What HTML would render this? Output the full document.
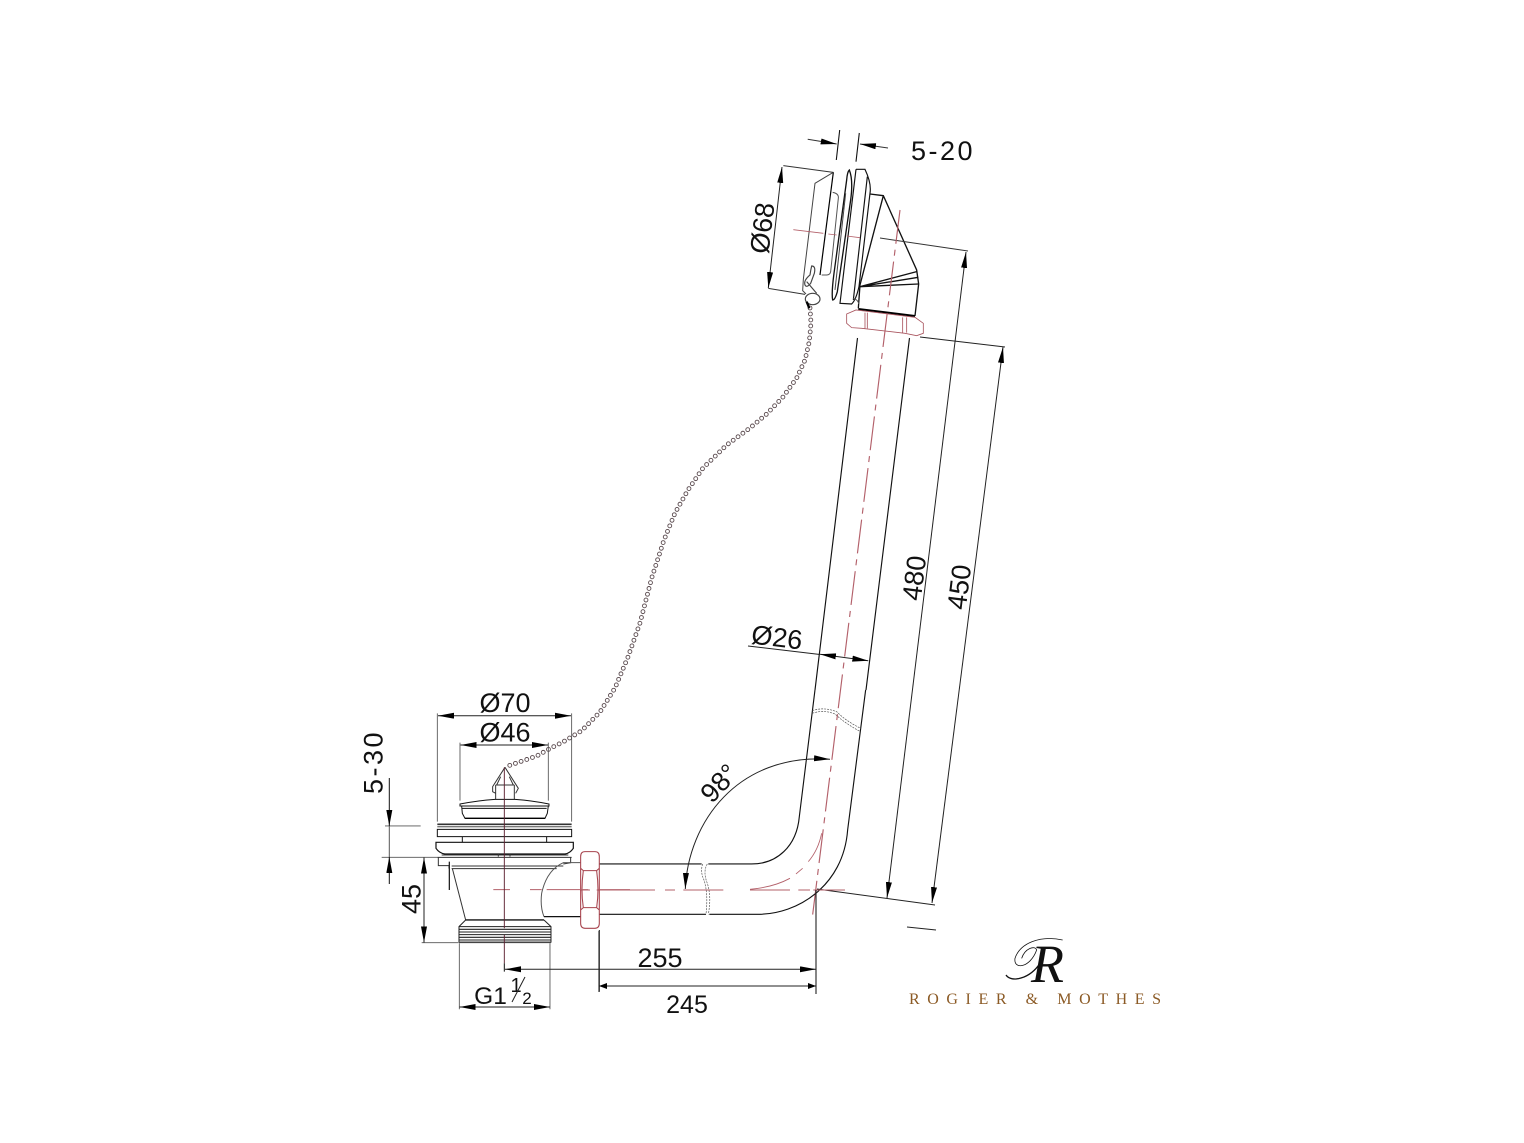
<!DOCTYPE html>
<html><head><meta charset="utf-8"><style>
html,body{margin:0;padding:0;background:#fff}
svg{display:block}
text{font-family:"Liberation Sans",sans-serif;fill:#111}
</style></head><body>
<svg width="1524" height="1143" viewBox="0 0 1524 1143" xmlns="http://www.w3.org/2000/svg">
<defs>
<marker id="a" markerUnits="userSpaceOnUse" markerWidth="18" markerHeight="8" refX="16" refY="3" orient="auto-start-reverse"><path d="M0,0L16,3L0,6Z" fill="#000"/></marker>
<marker id="s" markerUnits="userSpaceOnUse" markerWidth="10" markerHeight="8" refX="8" refY="3" orient="auto-start-reverse"><path d="M0,0L8,3L0,6Z" fill="#000"/></marker>
</defs>
<rect width="1524" height="1143" fill="#fff"/>

<!-- chain -->
<g fill="none" stroke-linecap="round" stroke-linejoin="round" stroke-dasharray="0 6">
<path stroke="#5a4a4e" stroke-width="4.8" d="M810,308L811,323L809.3,341.7L805,360L796.7,378L783,397L766.7,414L750,428L726.7,445L703,468L688,490L675,513L664,540L651.7,578L640,623L628,657L615,688L600,712L581.7,730.7L563,742L550,748.5L536.7,756L505,767"/>
<path stroke="#fff" stroke-width="3" d="M810,308L811,323L809.3,341.7L805,360L796.7,378L783,397L766.7,414L750,428L726.7,445L703,468L688,490L675,513L664,540L651.7,578L640,623L628,657L615,688L600,712L581.7,730.7L563,742L550,748.5L536.7,756L505,767"/>
</g>

<!-- top fitting -->
<g transform="translate(790,160) scale(.3333)" fill="none" stroke="#111" stroke-width="3">
<path stroke="#333" d="M-20,17L130,37M-65,385L45,403"/>
<path stroke="#444" d="M130,37L75,70L40,358L38,392L48,402"/>
<path stroke="#555" d="M128,97Q147,100 145,115L122,335Q120,345 110,345H95"/>
<path stroke="#000" stroke-width="3.6" d="M130,37L90,345"/>
<path stroke-width="4" d="M178,30Q190,60 182,120L142,395Q135,420 128,420Q124,400 132,340L170,60Q172,35 178,30Z"/>
<path d="M167,100L135,390" stroke="#444"/>
<path stroke-width="3.5" d="M198,28H225Q245,70 240,100L207,380Q198,420 185,432L150,430L198,28M190,420L232,50"/>
<path stroke-width="4" d="M240,102L280,107L380,330L386,372L375,468M280,107L210,375L205,445"/>
<path stroke-width="4" d="M210,380L380,335M210,380L385,352M210,380L385,372"/>
<path stroke="#555" d="M190,415Q205,420 206,432"/>
<path stroke="#000" stroke-width="6" d="M205,447L375,468"/>
<path stroke="#a9545e" stroke-width="2.5" d="M170,462L198,450L375,472L400,490L400,520L380,527L345,520L215,505L185,503L170,490ZM225,458V505M232,458V505M338,472V518M350,472V518"/>
<path stroke="#444" stroke-width="3.5" d="M65,318Q78,318 73,340L62,370Q50,385 45,375Q40,362 60,345Q62,330 65,318ZM50,365L80,400"/>
<ellipse cx="68" cy="417" rx="22" ry="17" stroke="#444" stroke-width="3.5"/>
<path stroke="#000" stroke-width="7" d="M50,425L58,445"/>
<path stroke="#b3606a" stroke-width="2.5" d="M10,209L100,220M115,222L140,225M170,228L210,233"/>
</g>
<path fill="none" stroke="#333" stroke-width="1" d="M880,238L968,251"/>
<path fill="none" stroke="#111" stroke-width="1.1" d="M839.7,130L836.3,160M859.3,133L856,161.7"/>
<path fill="none" stroke="#333" stroke-width="1" d="M807.7,139.3L836.7,144" marker-end="url(#a)"/>
<path fill="none" stroke="#333" stroke-width="1" d="M888,148L860,144" marker-end="url(#a)"/>
<path fill="none" stroke="#222" stroke-width="1" d="M782,167L768.3,288" marker-start="url(#a)" marker-end="url(#a)"/>
<path fill="none" stroke="#222" stroke-width="1" d="M966,252L887,898" marker-start="url(#a)" marker-end="url(#a)"/>
<path fill="none" stroke="#222" stroke-width="1" d="M1003,347L932,903" marker-start="url(#a)" marker-end="url(#a)"/>
<path fill="none" stroke="#222" stroke-width="1" d="M920,337L1005,347M817,889L935,905M907,927L936,930"/>

<!-- pipe -->
<g fill="none" stroke="#111" stroke-width="1.15">
<path d="M815,690L857.5,338M866,690L909.5,338"/>
</g>
<path fill="none" stroke="#b3606a" stroke-width="1.15" stroke-dasharray="34 6 6 6" d="M900,210L812,920"/>
<g transform="translate(580,690) scale(.3333)" fill="none" stroke="#111" stroke-width="3.4">
<path d="M57,522H365M385,522H515C590,522 650,470 658,380L705,0"/>
<path d="M57,673H378M388,673H535C650,673 790,590 803,420L857,0"/>
<path stroke="#555" stroke-width="2" stroke-dasharray="6 3" d="M368,522Q360,545 372,570Q385,610 378,673M382,522Q368,545 382,580Q395,620 385,673M697,62Q730,50 770,65Q800,95 843,115M697,70Q730,58 765,72Q795,100 840,124"/>
<path stroke="#b3606a" stroke-width="3" d="M0,600H30M50,600H225M255,600H285M310,600H430M510,600H630M655,600H690M700,600H795"/>
<path stroke="#b3606a" stroke-width="2.6" d="M510,598Q580,592 630,565M648,552L668,535M685,515Q715,480 725,430"/>
</g>
<path fill="none" stroke="#222" stroke-width="1" d="M748,646L820,654.5"/>
<path fill="none" stroke="#222" stroke-width="1" d="M820,654.3L868.3,660.7" marker-start="url(#a)" marker-end="url(#a)"/>
<path fill="none" stroke="#222" stroke-width="1" d="M685.3,889C688,823 737,753 830,759.3" marker-start="url(#a)" marker-end="url(#a)"/>

<!-- drain -->
<g transform="translate(350,680) scale(.3333)" fill="none" stroke="#111" stroke-width="3">
<path stroke="#555" stroke-width="2.6" d="M262,100V425M665,100V425M330,188V362M595,188V362M105,438H212M95,532H262M215,788H325M328,790V988M600,790V988"/>
<path stroke="#333" d="M465,262L428,320L428,335L437,340M465,262L505,325L497,340M437,315V357M493,315V357M437,315H493M452,290L440,315M478,290L490,315"/>
<path d="M330,372Q380,362 435,358H495Q550,362 597,372V378H330ZM335,385H590M335,378L337,400L345,415H585L592,400L595,378"/>
<path stroke="#000" stroke-width="4" d="M345,415H585"/>
<path stroke="#333" stroke-width="5" d="M262,433H665"/>
<path stroke="#777" stroke-width="4" d="M262,440H665"/>
<path d="M262,448H665V470H262ZM337,470V487M590,470V487"/>
<path stroke-width="3.6" d="M258,487H670V505Q660,520 645,522H285Q268,520 258,505Z"/>
<path stroke="#333" d="M275,525H655M262,532H665"/>
<path stroke="#333" d="M265,532V557H297V566M662,532V548L640,552M305,558H640M305,566H620"/>
<path stroke-width="3.6" d="M298,545V630"/>
<path stroke="#333" d="M307,565L347,720"/>
<path stroke="#555" d="M692,548H640Q590,570 575,640Q570,680 582,710"/>
<path stroke-width="3.6" d="M582,710H692"/>
<path stroke-width="4" d="M347,720H582"/>
<path stroke="#222" stroke-width="3" d="M347,720L327,740V788M582,720L603,740V788"/>
<path stroke="#222" stroke-width="3.2" d="M327,740H603M327,748H603M327,756H603M327,764H603M327,772H603M327,780H603"/>
<path stroke="#444" stroke-width="5" d="M327,787H603"/>
<path stroke="#a8444e" stroke-width="3.2" d="M692,530Q692,515 705,515H735Q748,515 748,530V730Q748,745 735,745H705Q692,745 692,730ZM692,565L700,572H740L748,565M692,690L700,683H740L748,690M700,572Q692,630 700,683M740,572Q748,630 740,683"/>
<path stroke="#b3606a" d="M430,629H480M540,629H575M590,629H690M692,629H715M750,629H840"/>
<path stroke="#5c2030" stroke-width="2.8" d="M463,262V745M463,765V850"/>
<path stroke="#333" stroke-width="3" d="M445,522V530M480,522V530"/>
<path stroke="#111" d="M748,750V935M463,850V875"/>
</g>
<path fill="none" stroke="#222" stroke-width="1" d="M438,715.7H571" marker-start="url(#a)" marker-end="url(#a)"/>
<path fill="none" stroke="#222" stroke-width="1" d="M460.5,745H548" marker-start="url(#a)" marker-end="url(#a)"/>
<path fill="none" stroke="#111" stroke-width="1" d="M389.3,778V826" marker-end="url(#a)"/>
<path fill="none" stroke="#111" stroke-width="1" d="M389.3,884V857" marker-end="url(#a)"/>
<path fill="none" stroke="#555" stroke-width="1" d="M389.3,826V857"/>
<path fill="none" stroke="#222" stroke-width="1" d="M424,857.5V942.5" marker-start="url(#a)" marker-end="url(#a)"/>
<path fill="none" stroke="#222" stroke-width="1" d="M459.5,1007H550" marker-start="url(#a)" marker-end="url(#a)"/>
<path fill="none" stroke="#222" stroke-width="1" d="M505,969.3H816" marker-start="url(#a)" marker-end="url(#a)"/>
<path fill="none" stroke="#222" stroke-width="1" d="M599,986H816" marker-start="url(#s)" marker-end="url(#s)"/>
<path fill="none" stroke="#222" stroke-width="1.1" d="M816,890V994M599,931V992"/>

<!-- labels -->
<g font-size="27" text-anchor="middle">
<text x="943" y="160" letter-spacing="2.5">5-20</text>
<text transform="translate(762,228) rotate(-83)" y="9.5">Ø68</text>
<text transform="translate(914,578) rotate(-83)" y="9.5">480</text>
<text transform="translate(959,587) rotate(-83)" y="9.5">450</text>
<text transform="translate(777,637) rotate(7)" y="9.5">Ø26</text>
<text transform="translate(719,783) rotate(-47)" y="9.5">98°</text>
<text x="505" y="712">Ø70</text>
<text x="505" y="741.5">Ø46</text>
<text transform="translate(373,762) rotate(-90)" y="9.5" letter-spacing="2.5">5-30</text>
<text transform="translate(411,899) rotate(-90)" y="9.5">45</text>
<text x="660" y="967">255</text>
<text x="687" y="1013" font-size="25">245</text>
<text x="490.5" y="1004" font-size="24.5">G1</text>
<text x="516" y="992" font-size="20">1</text>
<text x="527" y="1004" font-size="17">2</text>
</g>
<path d="M512,1002L525,977" stroke="#222" stroke-width="1" fill="none"/>

<!-- logo -->
<g transform="translate(880,880) scale(.3333)" fill="none" stroke="#111" stroke-width="2.4">
<path d="M548,180C480,165 420,190 405,235C400,270 450,265 470,210C465,195 435,205 425,235"/>
<path stroke-width="4" d="M378,285C395,310 450,295 480,250"/>
</g>
<text x="1031" y="982" font-size="54" font-style="italic" style="font-family:'Liberation Serif',serif">R</text>
<text x="909" y="1004" font-size="16" textLength="252" lengthAdjust="spacing" style="font-family:'Liberation Serif',serif;fill:#8b5a25">ROGIER &amp; MOTHES</text>
</svg>
</body></html>
